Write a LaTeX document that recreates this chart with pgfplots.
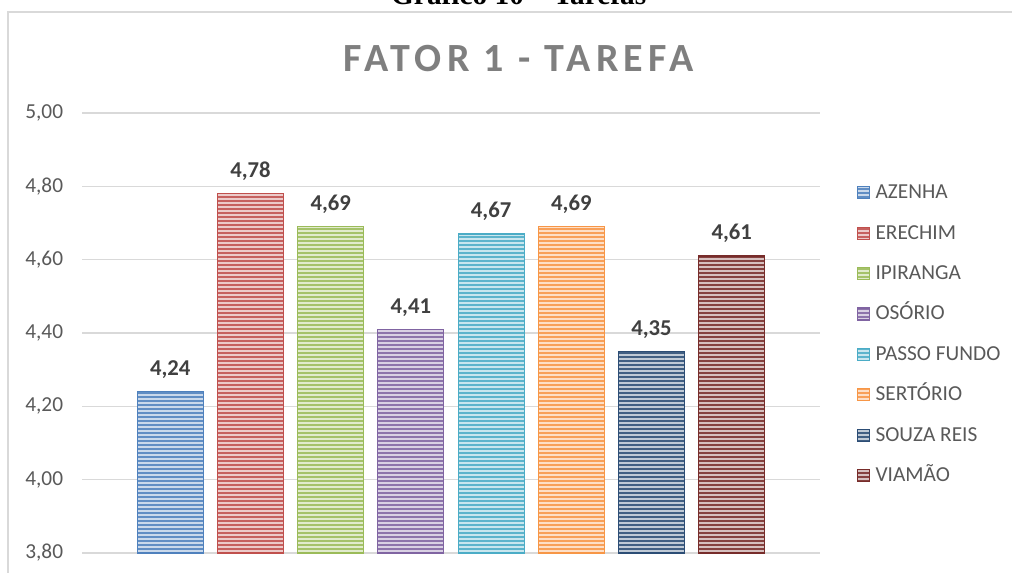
\documentclass[border=0pt]{standalone}
\usepackage{fontspec}
\setmainfont{Carlito}
\newfontfamily\capfont{Liberation Serif}
\newfontfamily\titlefont[LetterSpace=13]{Carlito}
\usepackage{pgfplots}
\pgfplotsset{compat=1.18}
\usetikzlibrary{patterns.meta}
\definecolor{cA}{HTML}{4F81BD}
\definecolor{cB}{HTML}{C0504D}
\definecolor{cC}{HTML}{9BBB59}
\definecolor{cD}{HTML}{8064A2}
\definecolor{cE}{HTML}{4BACC6}
\definecolor{cF}{HTML}{F79646}
\definecolor{cG}{HTML}{2C4D75}
\definecolor{cH}{HTML}{772C2A}
\definecolor{gridg}{HTML}{D9D9D9}
\definecolor{tickg}{HTML}{595959}
\definecolor{labg}{HTML}{404040}
\definecolor{titg}{HTML}{7F7F7F}
\pgfplotsset{
  mybar/.style={fill=#1!30!white, draw=#1, line width=0.8pt,
    postaction={pattern={Lines[angle=0,distance=3pt,line width=1.3pt]}, pattern color=#1!90!white}},
}
\begin{document}
\begin{tikzpicture}
\begin{axis}[
  at={(61.5pt,15pt)}, anchor=south west,
  scale only axis, width=553.5pt, height=330pt,
  xmin=-1.1, xmax=8.1, ymin=3.8, ymax=5.0,
  ytick={3.8,4.0,4.2,4.4,4.6,4.8,5.0},
  xtick=\empty,
  axis line style={draw=none},
  ymajorgrids, grid style={gridg, line width=0.9pt},
  major tick length=0pt,
  yticklabel style={font=\fontsize{16}{19}\selectfont, text=tickg, inner sep=0pt, xshift=-14pt,
     /pgf/number format/.cd, fixed, fixed zerofill, precision=2, use comma, assume math mode=true},
  ybar, bar width=49.5pt, bar shift=0pt,
  clip=false,
  nodes near coords,
  nodes near coords style={font=\bfseries\fontsize{17}{20}\selectfont, text=labg, yshift=6pt,
     /pgf/number format/.cd, fixed, fixed zerofill, precision=2, use comma, assume math mode=true},
  legend style={at={(axis description cs:1.05,0.842)}, anchor=north west, draw=none, fill=none,
     font=\fontsize{16}{19}\selectfont, text=tickg, row sep=15.3pt, inner sep=0pt,
     nodes={text height=12pt, text depth=3pt, inner sep=0pt},
     /tikz/every odd column/.append style={column sep=4pt}},
  legend cell align=left,
  legend image code/.code={\draw[#1] (0pt,-4.5pt) rectangle (9pt,4.5pt);},
]
\addplot[mybar=cA] coordinates {(0,4.24)};
\addplot[mybar=cB] coordinates {(1,4.78)};
\addplot[mybar=cC] coordinates {(2,4.69)};
\addplot[mybar=cD] coordinates {(3,4.41)};
\addplot[mybar=cE] coordinates {(4,4.67)};
\addplot[mybar=cF] coordinates {(5,4.69)};
\addplot[mybar=cG] coordinates {(6,4.35)};
\addplot[mybar=cH] coordinates {(7,4.61)};
\legend{AZENHA,ERECHIM,IPIRANGA,OSÓRIO,PASSO FUNDO,SERTÓRIO,SOUZA REIS,VIAMÃO}
\end{axis}
\draw[gridg, line width=1.2pt] (6pt,-5pt) -- (6pt,420.75pt) -- (770pt,420.75pt);
\node[anchor=base, font=\titlefont\bfseries\fontsize{30}{36}\selectfont, text=titg] at (389pt,375.75pt) {FATOR 1 - TAREFA};
\node[anchor=base, font=\capfont\bfseries\fontsize{22}{26}\selectfont] at (389pt,426pt) {Gráfico 10 – Tarefas};
\pgfresetboundingbox
\useasboundingbox (0,0) rectangle (759pt,429.75pt);
\end{tikzpicture}
\end{document}
